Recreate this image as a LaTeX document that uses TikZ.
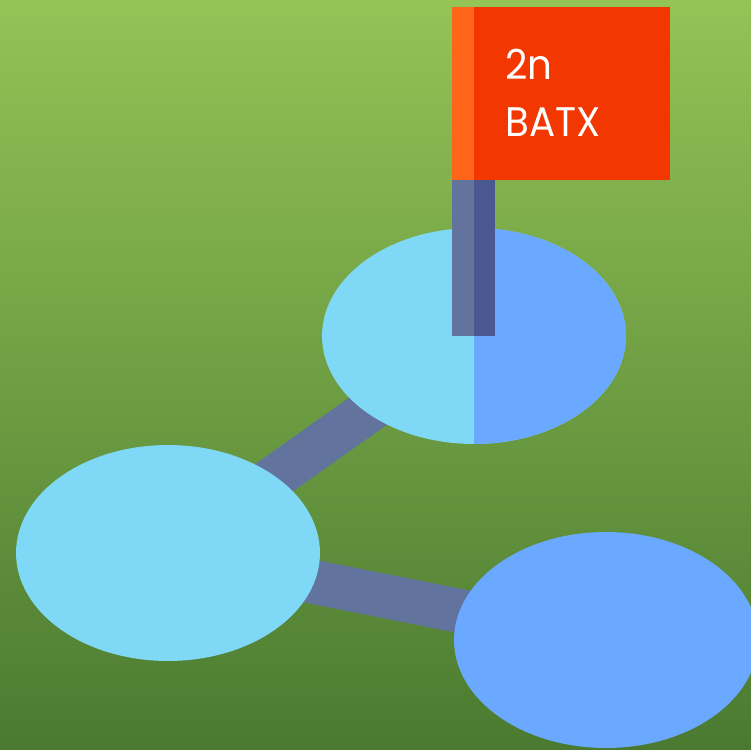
\documentclass[tikz,border=0pt]{standalone}
\usepackage{fontspec}
\setmainfont{Poppins}[FakeStretch=0.94]
\usepackage{xcolor}
\usetikzlibrary{shapes.geometric}

\definecolor{grasstop}{HTML}{94C356}
\definecolor{grassbot}{HTML}{4A7A30}
\definecolor{skylight}{HTML}{7FD9F6}
\definecolor{skyblue}{HTML}{6AA9FF}
\definecolor{linkgray}{HTML}{62739E}
\definecolor{poledark}{HTML}{4A5891}
\definecolor{flagred}{HTML}{F23800}
\definecolor{flagorange}{HTML}{FF6518}

\pgfdeclarelayer{back}
\pgfdeclarelayer{links}
\pgfsetlayers{back,links,main}

\begin{document}
\begin{tikzpicture}[x=0.02cm,y=-0.02cm,
	oval/.style={ellipse,inner sep=0pt,outer sep=0pt,minimum width=6.08cm,minimum height=4.32cm},
	link/.style={linkgray,line width=0.88cm},
	flagtext/.style={white,anchor=base west,inner sep=0pt,font=\fontsize{23.5}{32}\selectfont}]
		\useasboundingbox (0,0) rectangle (751,750);
		
		% draw background
		\begin{pgfonlayer}{back}
			\shade[top color=grasstop,bottom color=grassbot] (0,0) rectangle (751,750);
		\end{pgfonlayer}
		
		% draw the three ovals
		\node(ovaltop) at (474,336) [oval,fill=skylight] {};
		\node(ovalleft) at (168,553) [oval,fill=skylight] {};
		\node(ovalright) at (606,640) [oval,fill=skyblue] {};
		
		% right half of top oval
		\fill[skyblue] (ovaltop.south) arc[start angle=-90,end angle=90,x radius=3.04cm,y radius=2.16cm] -- cycle;
		
		% draw links between ovals
		\begin{pgfonlayer}{links}
			\draw[link] (ovalleft.center) -- (ovaltop.center);
			\draw[link] (ovalleft.center) -- (ovalright.center);
		\end{pgfonlayer}
		
		% draw pole
		\fill[linkgray] (452,180) rectangle (474,336);
		\fill[poledark] (474,180) rectangle (495,336);
		
		% draw flag
		\fill[flagred] (474,7) rectangle (670,180);
		\fill[flagorange] (452,7) rectangle (474,180);
		\node(flagnum) at (505,80) [flagtext] {2n};
		\node(flagname) at (505,137) [flagtext] {BATX};
\end{tikzpicture}
\end{document}
